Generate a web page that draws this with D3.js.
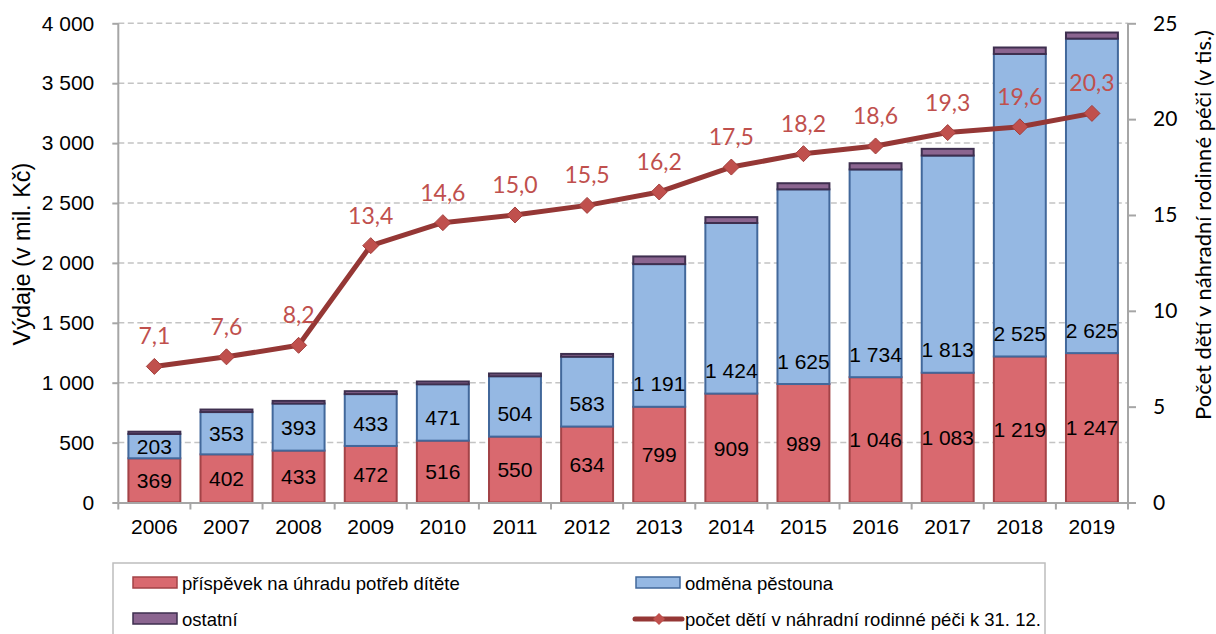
<!DOCTYPE html>
<html>
<head>
<meta charset="utf-8">
<script src="https://cdn.jsdelivr.net/npm/d3@7"></script>
<style>
  body { margin: 0; background: #fff; }
  svg { display: block; }
</style>
</head>
<body>
<div id="chart"></div>
<script>
const years = ["2006","2007","2008","2009","2010","2011","2012","2013","2014","2015","2016","2017","2018","2019"];
const prispevek = [369, 402, 433, 472, 516, 550, 634, 799, 909, 989, 1046, 1083, 1219, 1247];
const odmena = [203, 353, 393, 433, 471, 504, 583, 1191, 1424, 1625, 1734, 1813, 2525, 2625];
const ostatni = [19, 21, 22, 24, 23, 23, 23, 64, 49, 51, 52, 56, 54, 51];
const pocetDeti = [7.1, 7.6, 8.2, 13.4, 14.6, 15.0, 15.5, 16.2, 17.5, 18.2, 18.6, 19.3, 19.6, 20.3];
const leftTicks = [0, 500, 1000, 1500, 2000, 2500, 3000, 3500, 4000];
const rightTicks = [0, 5, 10, 15, 20, 25];

const seriesNames = ["příspěvek na úhradu potřeb dítěte", "odměna pěstouna", "ostatní", "počet dětí v náhradní rodinné péči k 31. 12."];

let W = 1216, H = 634;
let margin = {top: 23.3, right: 88, bottom: 131.5, left: 118.3},
    width = W - margin.left - margin.right,
    height = H - margin.top - margin.bottom;

let svg = d3.select("#chart").append("svg")
    .attr("width", W)
    .attr("height", H);

let g = svg.append("g")
    .attr("transform", "translate(" + margin.left + "," + margin.top + ")");

let x = d3.scaleBand().domain(years).range([0, width]).paddingInner(0.28).paddingOuter(0.14);
let xc = d3.scaleBand().domain(years).range([0, width]);
let y = d3.scaleLinear().domain([0, 4000]).range([height, 0]);
let y2 = d3.scaleLinear().domain([0, 25]).range([height, 0]);

const arial = "'Liberation Sans', Arial, sans-serif";
const cal = "Lato, 'Open Sans', sans-serif";
const axisGrey = "#a6a6a6";

// gridlines
g.append("g").selectAll("line")
    .data(leftTicks.filter(d => d > 0))
    .enter().append("line")
    .attr("x1", 0).attr("x2", width)
    .attr("y1", d => y(d)).attr("y2", d => y(d))
    .attr("stroke", "#c4c4c4")
    .attr("stroke-width", 1.5)
    .attr("stroke-dasharray", "6,3.5");

// stacked data
let table = years.map((yr, i) => ({year: yr, a: prispevek[i], b: odmena[i], c: ostatni[i]}));
let stack = d3.stack().keys(["a", "b", "c"])(table);
const fills = {a: "#d9696f", b: "#95b8e3", c: "#8b6590"};
const strokes = {a: "#a34347", b: "#42689b", c: "#3e2f4f"};

stack.forEach(function (layer) {
    g.append("g").selectAll("rect")
        .data(layer)
        .enter().append("rect")
        .attr("x", d => x(d.data.year))
        .attr("width", x.bandwidth())
        .attr("y", d => y(d[1]))
        .attr("height", d => y(d[0]) - y(d[1]))
        .attr("fill", fills[layer.key])
        .attr("stroke", strokes[layer.key])
        .attr("stroke-width", 2);
});

let fmt = v => d3.format(",")(v).replace(/,/g, "\u00a0");

// bar labels
g.append("g").selectAll("text")
    .data(stack[0])
    .enter().append("text")
    .attr("x", d => x(d.data.year) + x.bandwidth() / 2)
    .attr("y", d => (y(d[0]) + y(d[1])) / 2)
    .attr("dy", "0.36em")
    .attr("text-anchor", "middle")
    .style("font-family", arial).style("font-size", "21px")
    .text(d => fmt(d.data.a));

g.append("g").selectAll("text")
    .data(stack[1])
    .enter().append("text")
    .attr("x", d => x(d.data.year) + x.bandwidth() / 2)
    .attr("y", d => Math.max((y(d[0]) + y(d[1])) / 2, y(d[0]) - 23))
    .attr("dy", "0.36em")
    .attr("text-anchor", "middle")
    .style("font-family", arial).style("font-size", "21px")
    .text(d => fmt(d.data.b));

// axes
let gl = g.append("g").call(d3.axisLeft(y).tickValues(leftTicks).tickSize(6).tickPadding(18).tickFormat(fmt));
gl.selectAll("text").style("font-family", arial).style("font-size", "21px").attr("fill", "#000");

let gr = g.append("g").attr("transform", "translate(" + width + ",0)")
    .call(d3.axisRight(y2).tickValues(rightTicks).tickSize(8).tickPadding(17));
gr.selectAll("text").style("font-family", cal).style("font-size", "21px").attr("fill", "#000");

let gb = g.append("g").attr("transform", "translate(0," + height + ")")
    .call(d3.axisBottom(xc).tickSize(0).tickPadding(17));
gb.selectAll("text").style("font-family", arial).style("font-size", "21px").attr("fill", "#000");
gb.selectAll(".tick").append("line")
    .attr("x1", xc.bandwidth() / 2).attr("x2", xc.bandwidth() / 2)
    .attr("y1", 0).attr("y2", 7)
    .attr("stroke", axisGrey).attr("stroke-width", 2);
gb.select(".tick").append("line")
    .attr("x1", -xc.bandwidth() / 2).attr("x2", -xc.bandwidth() / 2)
    .attr("y1", 0).attr("y2", 7)
    .attr("stroke", axisGrey).attr("stroke-width", 2);

[gl, gr, gb].forEach(function (a) {
    a.select(".domain").attr("stroke", axisGrey).attr("stroke-width", 2);
    a.selectAll(".tick line").attr("stroke", axisGrey).attr("stroke-width", 2);
});
gl.select(".domain").attr("d", "M0," + height + "V0");
gr.select(".domain").attr("d", "M0," + height + "V0");

// line series
let cx = d => xc(d.year) + xc.bandwidth() / 2;
let lineData = years.map((yr, i) => ({year: yr, v: pocetDeti[i]}));
g.append("path")
    .datum(lineData)
    .attr("fill", "none")
    .attr("stroke", "#953735")
    .attr("stroke-width", 5)
    .attr("stroke-linejoin", "round")
    .attr("d", d3.line().x(cx).y(d => y2(d.v)));

g.append("g").selectAll("path")
    .data(lineData)
    .enter().append("path")
    .attr("transform", d => "translate(" + cx(d) + "," + y2(d.v) + ")")
    .attr("d", "M0,-8L8,0L0,8L-8,0Z")
    .attr("fill", "#c0504d")
    .attr("stroke", "#a33f3c")
    .attr("stroke-width", 1);

g.append("g").selectAll("text")
    .data(lineData)
    .enter().append("text")
    .attr("x", cx)
    .attr("y", d => y2(d.v) - 22)
    .attr("text-anchor", "middle")
    .style("font-family", cal).style("font-size", "23px")
    .attr("fill", "#c0504d")
    .text(d => d3.format(".1f")(d.v).replace(".", ","));

// axis titles
svg.append("text")
    .attr("transform", "translate(30,254) rotate(-90)")
    .attr("text-anchor", "middle")
    .style("font-family", arial).style("font-size", "23.5px")
    .text("Výdaje (v mil. Kč)");

svg.append("text")
    .attr("transform", "translate(1211,225) rotate(-90)")
    .attr("text-anchor", "middle")
    .style("font-family", cal).style("font-size", "22px")
    .text("Počet dětí v náhradní rodinné péči (v tis.)");

// legend
let lg = svg.append("g");
lg.append("rect")
    .attr("x", 113).attr("y", 563)
    .attr("width", 932).attr("height", 90)
    .attr("fill", "#fff")
    .attr("stroke", "#bdbdbd").attr("stroke-width", 1.5);

let legendItems = [
    {name: seriesNames[0], key: "a", lx: 133, ly: 583},
    {name: seriesNames[1], key: "b", lx: 636, ly: 583},
    {name: seriesNames[2], key: "c", lx: 133, ly: 619},
    {name: seriesNames[3], key: "line", lx: 636, ly: 619}
];
legendItems.forEach(function (it) {
    if (it.key === "line") {
        lg.append("line")
            .attr("x1", it.lx - 1).attr("x2", it.lx + 46)
            .attr("y1", it.ly).attr("y2", it.ly)
            .attr("stroke", "#953735").attr("stroke-width", 5).attr("stroke-linecap", "round");
        lg.append("path")
            .attr("transform", "translate(" + (it.lx + 23) + "," + it.ly + ")")
            .attr("d", "M0,-6L6,0L0,6L-6,0Z")
            .attr("fill", "#c0504d");
    } else {
        lg.append("rect")
            .attr("x", it.lx).attr("y", it.ly - 6)
            .attr("width", 44).attr("height", 11)
            .attr("fill", fills[it.key])
            .attr("stroke", strokes[it.key]).attr("stroke-width", 1.5);
    }
    lg.append("text")
        .attr("x", it.lx + 49).attr("y", it.ly)
        .attr("dy", "0.36em")
        .style("font-family", arial).style("font-size", "18.5px")
        .text(it.name);
});
</script>
</body>
</html>
